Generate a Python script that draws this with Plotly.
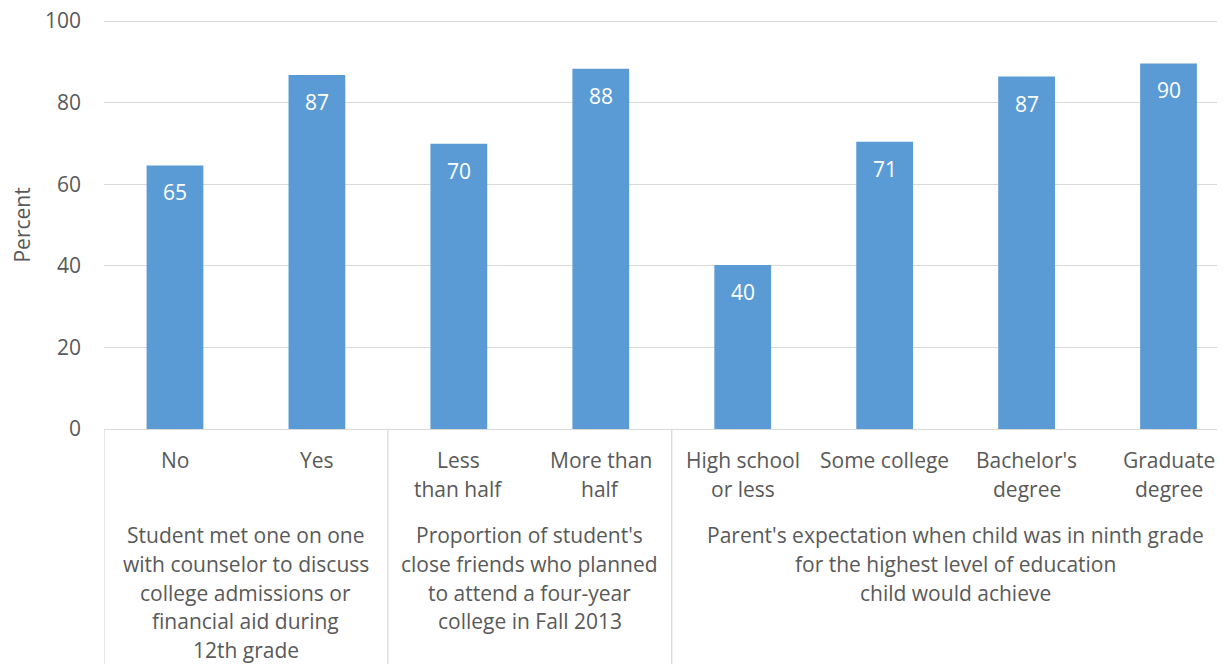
import plotly.graph_objects as go

# ---- data ----
category_lines = [
    ["No"], ["Yes"],
    ["Less", "than half"], ["More than", "half"],
    ["High school", "or less"], ["Some college"], ["Bachelor's", "degree"], ["Graduate", "degree"],
]
values = [64.6, 86.8, 69.9, 88.3, 40.2, 70.4, 86.4, 89.6]
value_labels = ["65", "87", "70", "88", "40", "71", "87", "90"]
group_sizes = [2, 2, 4]
group_lines = [
    ["Student met one on one", "with counselor to discuss", "college admissions or",
     "financial aid during", "12th grade"],
    ["Proportion of student's", "close friends who planned", "to attend a four-year",
     "college in Fall 2013"],
    ["Parent's expectation when child was in ninth grade", "for the highest level of education",
     "child would achieve"],
]
y_ticks = [0, 20, 40, 60, 80, 100]

# ---- layout constants (page body has an 8px margin) ----
OFF = 8
W, H = 1225 - OFF, 664 - OFF
PX_PER_UNIT = 4.08          # pixels per percent
Y_TOP = 100.5               # small headroom so the 100 gridline is drawn
PLOT_H = Y_TOP * PX_PER_UNIT
ML = 103.5 - OFF
MT = 21 - OFF - (Y_TOP - 100) * PX_PER_UNIT
MB = H - MT - PLOT_H
PX_PER_CAT = 142
BAR = "#5B9BD5"
TXT = "#595959"
GRID = "#D9D9D9"
FONT = "Open Sans"
FS = 21

x = list(range(len(values)))
xmax = -0.5 + (W - ML) / PX_PER_CAT

fig = go.Figure()
fig.add_trace(go.Bar(x=x, y=values, marker=dict(color=BAR, line=dict(width=0)),
                     width=0.4, hoverinfo="skip"))

ann = []
# data labels
for xi, v, lab in zip(x, values, value_labels):
    ann.append(dict(x=xi, y=v, xref="x", yref="y", text=lab, showarrow=False,
                    yanchor="middle", yshift=-27, font=dict(color="white", size=FS, family=FONT)))
# category labels
for xi, lines in zip(x, category_lines):
    for k, line in enumerate(lines):
        ann.append(dict(x=xi, y=0, xref="x", yref="y", text=line, showarrow=False,
                        yanchor="middle", yshift=-(31 + k * 28.5),
                        font=dict(color=TXT, size=FS, family=FONT)))
# group labels + dividers
shapes = []
start = -0.5
div_bottom = -(MB + 10) / PLOT_H
for size, lines in zip(group_sizes, group_lines):
    center = start + size / 2
    for k, line in enumerate(lines):
        ann.append(dict(x=center, y=0, xref="x", yref="y", text=line, showarrow=False,
                        yanchor="middle", yshift=-(106 + k * 28.8),
                        font=dict(color=TXT, size=FS, family=FONT)))
    shapes.append(dict(type="line", xref="x", yref="paper", x0=start, x1=start, y0=0, y1=div_bottom,
                       line=dict(color=GRID, width=1.3)))
    start += size
shapes.append(dict(type="line", xref="x", yref="paper", x0=start, x1=start, y0=0, y1=div_bottom,
                   line=dict(color=GRID, width=1.3)))
# y axis title
ann.append(dict(x=0, y=50, xref="paper", yref="y", text="Percent", showarrow=False,
                textangle=-90, xanchor="center", yanchor="middle", xshift=-(ML + OFF - 22),
                font=dict(color=TXT, size=FS, family=FONT)))

fig.update_layout(
    width=W, height=H,
    margin=dict(l=ML, r=0, t=MT, b=MB, pad=0),
    paper_bgcolor="white", plot_bgcolor="white",
    showlegend=False, bargap=0.6,
    annotations=ann, shapes=shapes,
    font=dict(family=FONT, size=FS, color=TXT),
    xaxis=dict(range=[-0.5, xmax], showticklabels=False, ticks="", showgrid=False,
               showline=True, linecolor=GRID, linewidth=1.3, zeroline=False,
               fixedrange=True, automargin=False),
    yaxis=dict(range=[0, Y_TOP], tickvals=y_ticks, showgrid=True, gridcolor=GRID, gridwidth=1.3,
               zeroline=False, showline=False, ticks="", ticklabelstandoff=22,
               ticklabeloverflow="allow",
               tickfont=dict(color=TXT, size=FS, family=FONT), automargin=False,
               fixedrange=True),
)

fig.write_html("out.html")
